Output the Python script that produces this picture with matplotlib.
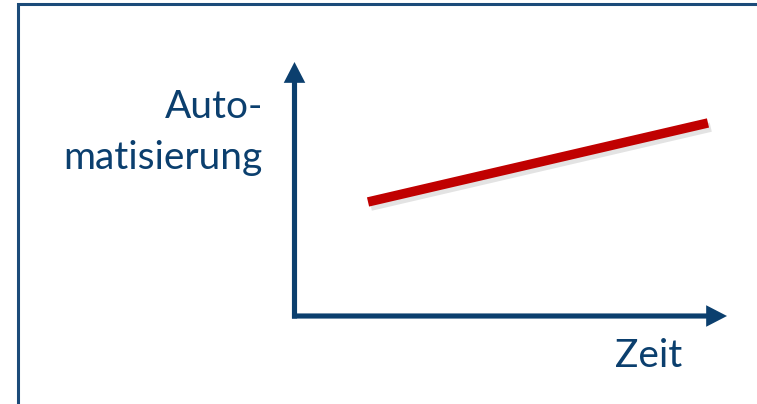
import matplotlib
matplotlib.use("Agg")
import matplotlib.pyplot as plt
import matplotlib.patheffects as pe
from matplotlib.lines import Line2D

# Daten (qualitativ): Automatisierung steigt mit der Zeit
zeit = [0.17, 0.956]
automatisierung = [0.449, 0.760]

blau = "#0B3F6E"
rot = "#C00000"

W, H = 757, 404
fig = plt.figure(figsize=(W / 100, H / 100), dpi=100)

# Achsen: Ursprung bei Pixel (294.5, 316), Pfeilspitzen bei x=727 bzw. y=62
x0, y0 = 294.5, 316
ax = fig.add_axes([x0 / W, (H - y0) / H, (727 - x0) / W, (y0 - 62) / H])
ax.set_xlim(0, 1)
ax.set_ylim(0, 1)
ax.axis("off")

# Rahmen oben und links
fig.add_artist(Line2D([18 / W, 18 / W, 1.02], [-0.02, 1 - 4 / H, 1 - 4 / H],
                      transform=fig.transFigure, color="#1B4B79", lw=2.2,
                      solid_joinstyle="miter"))

# Pfeile
stil = "simple,head_length=1.5,head_width=1.55,tail_width=0.37"
ax.annotate("", xy=(0, 1), xytext=(0, -0.01), xycoords="axes fraction",
            arrowprops=dict(arrowstyle=stil, mutation_scale=10, color=blau,
                            lw=0, shrinkA=0, shrinkB=0))
ax.annotate("", xy=(1, 0), xytext=(-0.0058, 0), xycoords="axes fraction",
            arrowprops=dict(arrowstyle=stil, mutation_scale=10, color=blau,
                            lw=0, shrinkA=0, shrinkB=0))

# Linie mit Schatten
ax.plot(zeit, automatisierung, color=rot, lw=6.8, solid_capstyle="butt",
        path_effects=[pe.SimpleLineShadow(offset=(2, -3), shadow_color="gray", alpha=0.22),
                      pe.Normal()])

schrift = dict(family="Lato", fontsize=28, color=blau, ha="right", va="baseline",
               transform=ax.transAxes)
ax.text(-0.073, 0.780, "Auto-", **schrift)
ax.text(-0.073, 0.579, "matisierung", **schrift)
ax.text(0.896, -0.201, "Zeit", **schrift)
for t in ax.texts:
    t.set_clip_on(False)

plt.savefig("out.png", dpi=100)
